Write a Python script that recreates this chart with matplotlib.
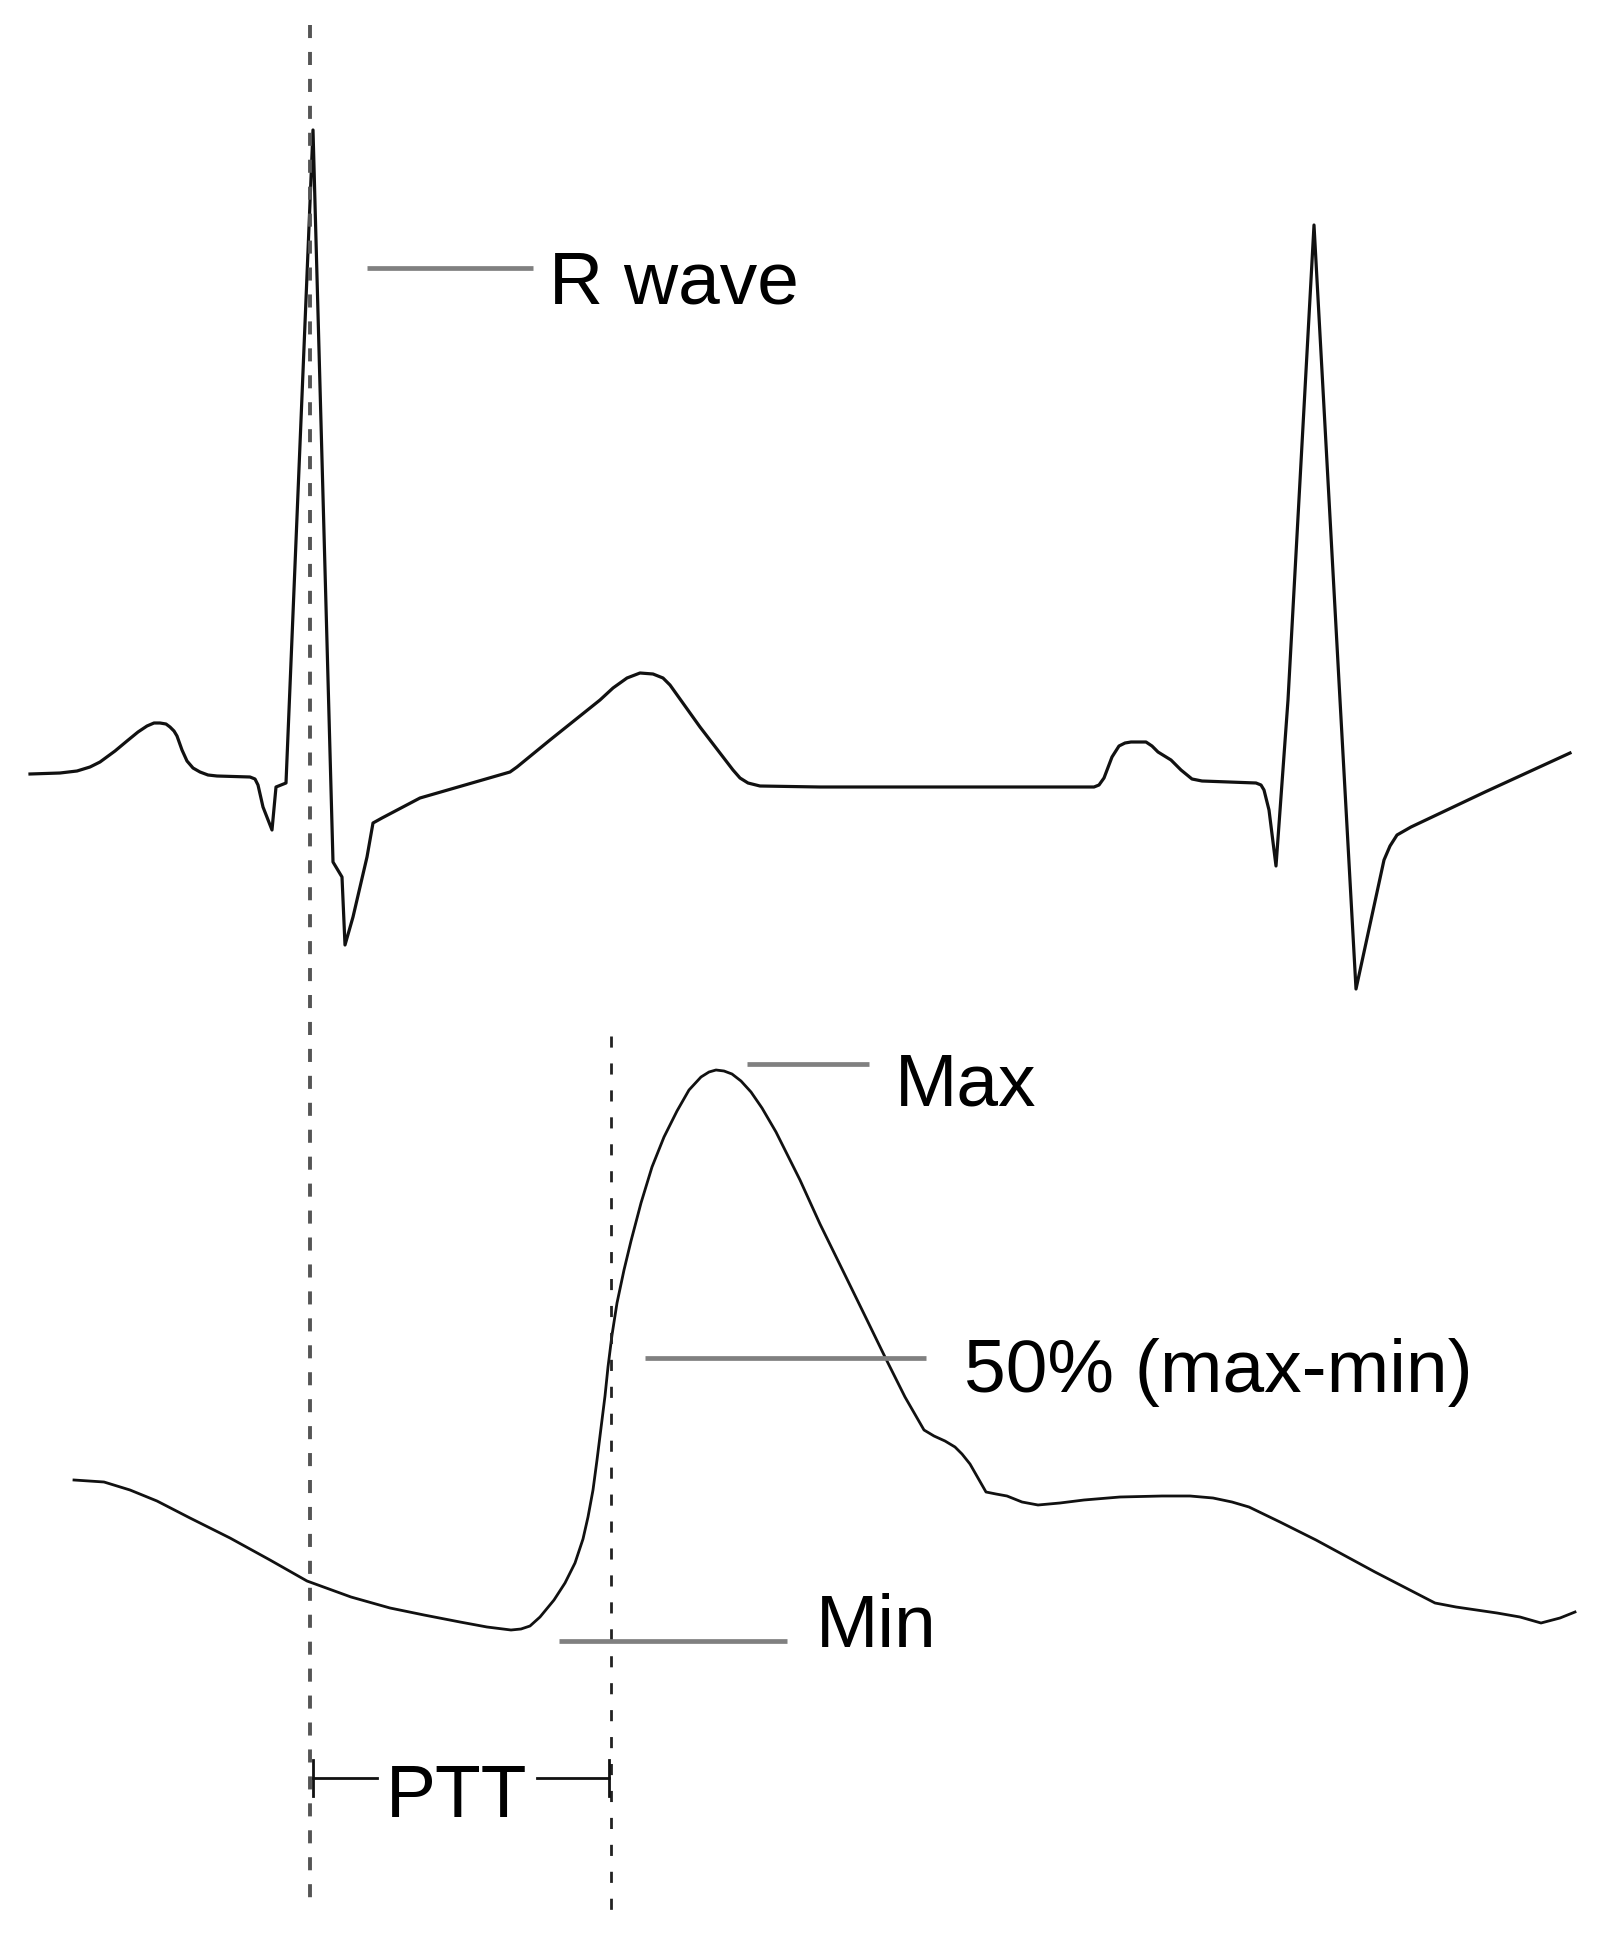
import matplotlib
matplotlib.use('agg')
import matplotlib.pyplot as plt

plt.rcParams['font.family'] = ['Liberation Sans', 'DejaVu Sans']
plt.rcParams['lines.scale_dashes'] = False

# ECG trace (picture pixel coordinates, y grows downwards)
ecg_x = [30, 60, 77, 90, 100, 115, 127, 138, 147, 154, 160, 166, 170, 174,
         177, 182, 187, 193, 200, 208, 217, 250, 255, 258, 263,
         272, 276, 286, 313, 333, 342, 345, 353, 367, 373, 382, 420, 510, 517,
         550, 600, 613, 627, 640, 653, 663, 670, 700, 733, 740, 748, 760, 820,
         1080, 1094, 1099, 1104, 1112, 1119, 1125, 1131, 1146, 1152, 1158,
         1171, 1181, 1192, 1202, 1256, 1261, 1264, 1269, 1276, 1288, 1314,
         1340, 1356, 1384, 1390, 1397, 1411, 1485, 1570]
ecg_y = [774, 773, 771, 767, 762, 751, 741, 732, 726, 723, 723, 724, 727, 731,
         736, 750, 761, 768, 772, 775, 776, 777, 779, 785, 807,
         830, 787, 783, 130, 862, 877, 945, 917, 857, 823, 818, 798, 772, 767,
         740, 700, 688, 678, 673, 674, 678, 685, 727, 770, 778, 783, 786, 787,
         787, 787, 785, 778, 757, 746, 743, 742, 742, 746, 752,
         760, 770, 779, 781, 783, 785, 790, 810, 866, 700, 225,
         700, 989, 860, 846, 835, 827, 792, 753]

# PPG trace
ppg_x = [74, 104, 130, 157, 190, 230, 270, 307, 351, 390, 424, 460, 487, 511,
         521, 530, 540, 554, 565, 575, 583, 588, 593, 597, 601, 605, 608, 612,
         617, 624, 631, 641, 652, 664, 677, 689, 701, 709, 716, 724, 732, 741,
         751, 762, 776, 800, 820, 845, 867, 885, 905, 924, 929, 934, 945, 955,
         962, 970, 978, 986, 996, 1007, 1022, 1038, 1060, 1084, 1120, 1162,
         1190, 1213, 1232, 1249, 1280, 1316, 1375, 1435, 1456, 1497, 1520,
         1541, 1560, 1575]
ppg_y = [1480, 1482, 1490, 1501, 1518, 1538, 1560, 1581, 1597, 1608, 1615,
         1622, 1627, 1630, 1629, 1626, 1617, 1600, 1583, 1563, 1539, 1517,
         1490, 1460, 1428, 1396, 1367, 1335, 1303, 1270, 1241, 1203, 1167,
         1137, 1111, 1090, 1077, 1072, 1070, 1071, 1074, 1081, 1092, 1108,
         1132, 1180, 1224, 1275, 1320, 1357, 1397, 1430, 1433, 1436, 1441,
         1447, 1454, 1464, 1478, 1492, 1494, 1496, 1502, 1505, 1503, 1500,
         1497, 1496, 1496, 1498, 1502, 1507, 1522, 1540, 1572, 1603, 1607,
         1613, 1617, 1623, 1618, 1612]

# marker lines: (x_start, x_end, y) and label text placed after them
labels = ['R wave', 'Max', '50% (max-min)', 'Min']
label_line_x0 = [367, 747, 645, 559]
label_line_x1 = [533, 869, 926, 787]
label_line_y = [268, 1064, 1358, 1641]
label_text_x = [549, 895, 964, 816]
label_text_y = [303, 1105, 1392, 1647]

# vertical dashed markers (R peak and PPG 50% point)
r_time = 310
ppg_time = 611
r_span = (25, 1907)
ppg_span = (1036, 1912)

ptt_y = 1778
ptt_gap = (377, 537)

fig = plt.figure(figsize=(16.1, 19.46), dpi=100)
ax = fig.add_axes([0, 0, 1, 1])
ax.set_xlim(0, 1610)
ax.set_ylim(1946, 0)
ax.axis('off')

ax.plot(ecg_x, ecg_y, color='#111111', lw=2.3, solid_joinstyle='round')
ax.plot(ppg_x, ppg_y, color='#111111', lw=2.0, solid_joinstyle='round')

ax.plot([r_time, r_time], r_span, color='#555555', lw=2.8,
        linestyle=(0, (9.4, 10.0)))
ax.plot([ppg_time, ppg_time], ppg_span, color='#222222', lw=2.0,
        linestyle=(0, (8.0, 11.4)))

for i, lab in enumerate(labels):
    ax.plot([label_line_x0[i], label_line_x1[i]],
            [label_line_y[i], label_line_y[i]], color='#808080', lw=3.4,
            solid_capstyle='butt')
    ax.text(label_text_x[i], label_text_y[i], lab, fontsize=54,
            ha='left', va='baseline', color='black')

# PTT bracket
ax.plot([r_time + 3, ptt_gap[0]], [ptt_y, ptt_y], color='#111111', lw=2.0)
ax.plot([ptt_gap[1], ppg_time - 2], [ptt_y, ptt_y], color='#111111', lw=2.0)
ax.plot([r_time + 3, r_time + 3], [ptt_y - 18, ptt_y + 18], color='#111111',
        lw=2.0)
ax.plot([ppg_time - 2, ppg_time - 2], [ptt_y - 18, ptt_y + 18],
        color='#111111', lw=2.0)
ax.text((ptt_gap[0] + ptt_gap[1]) / 2, 1817, 'PTT', fontsize=54,
        ha='center', va='baseline', color='black')

fig.savefig('out.png', dpi=100, facecolor='white')
